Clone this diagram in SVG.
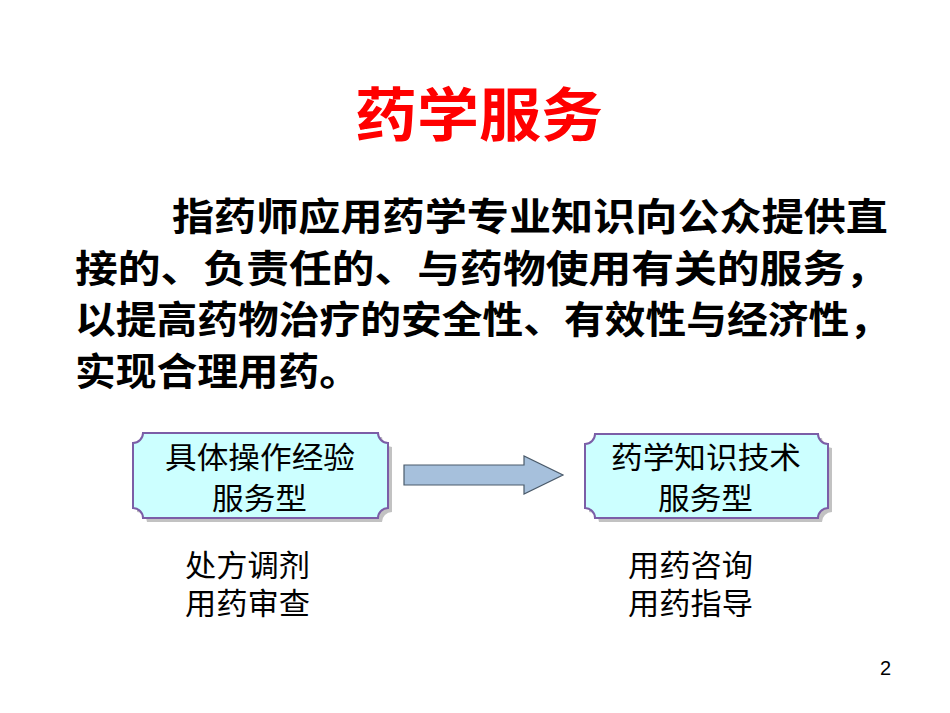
<svg xmlns="http://www.w3.org/2000/svg" width="950" height="713" viewBox="0 0 950 713">
<style>
.t{font-family:"Liberation Sans","Noto Sans CJK SC",sans-serif;font-weight:bold;fill:#000}
.b{fill:#ccffff;stroke:#7b5ea7;stroke-width:2}
.s{fill:#999;opacity:.6}
.l{font-family:"Liberation Sans","Noto Sans CJK SC",sans-serif;font-size:30px;fill:#000}
</style>
<rect width="950" height="713" fill="#fff"/>
<text x="355" y="136" textLength="248" lengthAdjust="spacingAndGlyphs" class="t" style="font-size:58px;fill:#ff0000">药学服务</text>
<g class="t" style="font-size:38px">
<text x="172" y="230" textLength="716" lengthAdjust="spacingAndGlyphs">指药师应用药学专业知识向公众提供直</text>
<text x="75" y="282" textLength="813" lengthAdjust="spacingAndGlyphs">接的、负责任的、与药物使用有关的服务，</text>
<text x="75" y="333" textLength="815" lengthAdjust="spacingAndGlyphs">以提高药物治疗的安全性、有效性与经济性，</text>
<text x="75" y="385" textLength="285" lengthAdjust="spacingAndGlyphs">实现合理用药。</text>
</g>
<g id="box1">
<path class="s" d="M147,437 H382 A10,10 0 0 0 392,447 V512 A10,10 0 0 0 382,522 H147 A10,10 0 0 0 137,512 V447 A10,10 0 0 0 147,437Z"/>
<path class="b" d="M143,433 H378 A10,10 0 0 0 388,443 V508 A10,10 0 0 0 378,518 H143 A10,10 0 0 0 133,508 V443 A10,10 0 0 0 143,433Z"/>
<text x="165" y="468" textLength="190" lengthAdjust="spacingAndGlyphs" class="l">具体操作经验</text>
<text x="212" y="509" textLength="95" lengthAdjust="spacingAndGlyphs" class="l">服务型</text>
</g>
<g id="box2">
<path class="s" d="M599,438 H822 A10,10 0 0 0 832,448 V512 A10,10 0 0 0 822,522 H599 A10,10 0 0 0 589,512 V448 A10,10 0 0 0 599,438Z"/>
<path class="b" d="M595,434 H818 A10,10 0 0 0 828,444 V508 A10,10 0 0 0 818,518 H595 A10,10 0 0 0 585,508 V444 A10,10 0 0 0 595,434Z"/>
<text x="611" y="468" textLength="190" lengthAdjust="spacingAndGlyphs" class="l">药学知识技术</text>
<text x="658" y="509" textLength="95" lengthAdjust="spacingAndGlyphs" class="l">服务型</text>
</g>
<g id="connectors">
<path d="M404,465 H524 V456 L563,475 L524,494 V485 H404Z" fill="#a6c0dc" stroke="#4a5a6a" stroke-width="1.2"/>
</g>
<g id="labels">
<text x="185" y="576" textLength="125" lengthAdjust="spacingAndGlyphs" class="l">处方调剂</text>
<text x="185" y="614" textLength="125" lengthAdjust="spacingAndGlyphs" class="l">用药审查</text>
<text x="628" y="576" textLength="125" lengthAdjust="spacingAndGlyphs" class="l">用药咨询</text>
<text x="628" y="614" textLength="125" lengthAdjust="spacingAndGlyphs" class="l">用药指导</text>
</g>
<text x="880" y="675" class="l" style="font-size:20px">2</text>
</svg>
